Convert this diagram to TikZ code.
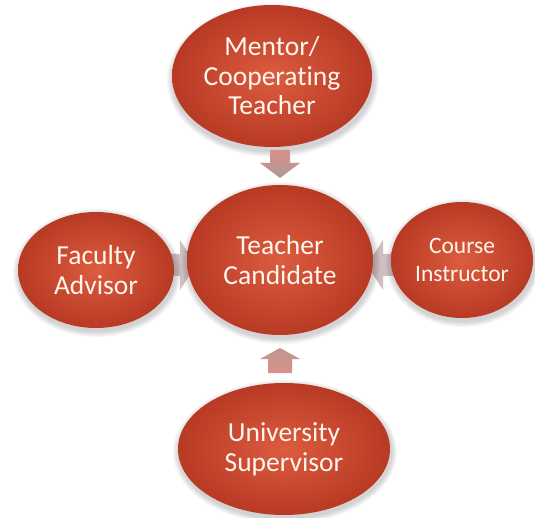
\documentclass[tikz,border=0pt]{standalone}
\usepackage{fontspec}
\setmainfont[Ligatures=NoCommon]{Carlito}
\usetikzlibrary{shapes.geometric}
\definecolor{ballA}{HTML}{DC5C3F}
\definecolor{ballB}{HTML}{B83A24}
\definecolor{txt}{HTML}{FFF6EE}
\definecolor{arrA}{HTML}{DA918A}
\definecolor{arrB}{HTML}{AE9898}
\definecolor{sideA}{HTML}{C4A8B0}
\tikzset{
  ball/.style={ellipse, inner sep=0pt, outer sep=0pt, draw=none,
    inner color=ballA, outer color=ballB, text=txt, align=center,
    font=\fontsize{27.5}{30}\selectfont},
}
\newcommand{\myshadow}[4]{% x y rx ry
  \foreach \k in {1,...,5}{
    \fill[black, opacity=0.035] (#1+1,#2+3) ellipse ({#3+\k*1.2} and {#4+\k*1.2});
  }
}
\begin{document}
\begin{tikzpicture}[x=1pt,y=-1pt]
\useasboundingbox[fill=white] (0,0) rectangle (535,518);
% side arrows (behind ellipses)
\shade[opacity=0.7, left color=sideA, right color=sideA!80!gray] (150,254) -- (180,254) -- (180,240) -- (196,265) -- (180,290) -- (180,276) -- (150,276) -- cycle;
\shade[opacity=0.7, left color=sideA!80!gray, right color=sideA] (410,254) -- (383,254) -- (383,240) -- (367,265) -- (383,290) -- (383,276) -- (410,276) -- cycle;
% shadows
\myshadow{272}{77}{100}{71}
\myshadow{280}{260}{93}{75}
\myshadow{96}{270}{78}{58}
\myshadow{462}{260}{71}{58}
\myshadow{284}{449}{106}{66}
% ellipses
\node[ball, minimum width=200, minimum height=142, font=\fontsize{27.5}{29.5}\selectfont] (mentor) at (272,76) {Mentor/\\Cooperating\\Teacher};
\node[ball, minimum width=186, minimum height=150] (cand) at (280,260) {Teacher\\Candidate};
\node[ball, minimum width=156, minimum height=116] (fac) at (96,270) {Faculty\\Advisor};
\node[ball, minimum width=142, minimum height=116, font=\fontsize{23.5}{28}\selectfont] (course) at (462,260) {Course\\Instructor};
\node[ball, minimum width=212, minimum height=132] (univ) at (284,449) {University\\Supervisor};
% vertical block arrows
\shade[top color=arrA, bottom color=arrB] (270,150) -- (290,150) -- (290,163) -- (300,163) -- (280,178) -- (260,163) -- (270,163) -- cycle;
\shade[top color=arrB!60!arrA, bottom color=arrA] (280,348) -- (300,359) -- (292,359) -- (292,373) -- (268,373) -- (268,359) -- (260,359) -- cycle;
\end{tikzpicture}
\end{document}
